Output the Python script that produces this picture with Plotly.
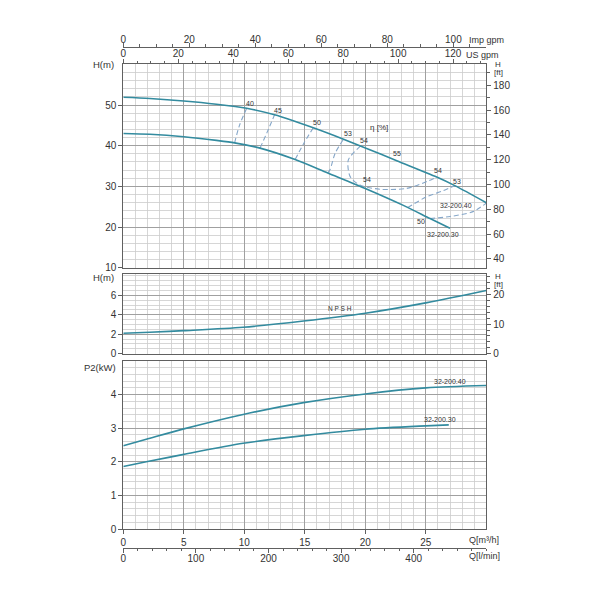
import plotly.graph_objects as go

# ---------------- data ----------------
FT = 3.28084      # m -> ft
USG = 4.40287     # m3/h -> US gpm
IMPG = 3.66615    # m3/h -> Imp gpm
LMIN = 16.6667    # m3/h -> l/min

# H-Q curves
q_h40 = [0, 2.2, 5, 7.7, 10.2, 12.5, 15.7, 18.2, 19.8, 22.6, 25.9, 27.4, 30]
h_h40 = [51.9, 51.6, 51.0, 50.2, 49.2, 47.6, 44.4, 41.6, 39.7, 36.3, 32.3, 30.2, 26.0]
q_h30 = [0, 2.2, 5, 7.7, 9.2, 11.3, 14.2, 16.9, 20, 23.1, 25.35, 27.0]
h_h30 = [43.0, 42.8, 42.2, 41.3, 40.7, 39.4, 36.6, 33.3, 29.5, 25.4, 22.1, 19.7]

# iso-efficiency curves (dashed)
eff40_q = [9.2, 9.6, 10.2];            eff40_h = [40.7, 45.0, 49.2]
eff45_q = [11.3, 11.9, 12.5];          eff45_h = [39.4, 43.4, 47.6]
eff50_q = [14.2, 14.9, 15.7];          eff50_h = [36.6, 40.5, 44.4]
eff53a_q = [16.9, 17.1, 17.5, 18.2];   eff53a_h = [33.3, 34.2, 38.1, 41.6]
eff54_q = [19.6, 18.6, 18.75, 19.55, 21.2, 23.4, 25.1, 25.9]
eff54_h = [39.9, 36.5, 32.4, 30.35, 29.3, 29.5, 31.2, 32.3]
eff53b_q = [23.5, 25.1, 26.45, 27.4];  eff53b_h = [24.8, 27.5, 28.95, 30.2]
eff50b_q = [25.35, 27.0, 28.9, 30.0];  eff50b_h = [22.1, 22.6, 23.8, 25.9]

# efficiency labels
effl_text = ["40", "45", "50", "53", "54", "55", "54", "53", "54", "50"]
effl_q = [10.5, 12.8, 16.0, 18.6, 19.9, 22.65, 26.0, 27.55, 20.1, 24.6]
effl_h = [50.4, 48.6, 45.65, 42.9, 41.2, 38.1, 33.9, 31.2, 31.6, 21.3]

# NPSH
q_npsh = [0, 2.2, 5, 9.9, 14.9, 20, 25.1, 30]
npsh = [2.1, 2.2, 2.37, 2.72, 3.36, 4.16, 5.25, 6.5]

# P2
q_p40 = [0, 1.9, 5, 9.9, 14.9, 20, 25, 30]
p_p40 = [2.48, 2.67, 2.98, 3.41, 3.76, 4.02, 4.20, 4.27]
q_p30 = [0, 1.9, 5, 9.9, 14.9, 20, 25, 26.9]
p_p30 = [1.86, 2.0, 2.22, 2.55, 2.78, 2.97, 3.07, 3.10]

# tick labels
q_ticks = [0, 5, 10, 15, 20, 25]
lmin_ticks = [0, 100, 200, 300, 400]
usg_ticks = [0, 20, 40, 60, 80, 100, 120]
impg_ticks = [0, 20, 40, 60, 80, 100]
h_ticks = [10, 20, 30, 40, 50]
hft_ticks = [40, 60, 80, 100, 120, 140, 160, 180]
npsh_ticks = [0, 2, 4, 6]
npshft_ticks = [0, 10, 20]
p_ticks = [0, 1, 2, 3, 4]

# ---------------- styling ----------------
W = H = 600
def px_x(x): return x / W
def px_y(y): return 1 - y / H

CURVE = "#338b9f"
DASH = "#86a7c9"
MAJ = "#a0a0a0"
MIN = "#cccccc"
BORDER = "#606060"
TXT = "#333333"
FONT = "Liberation Sans, Arial, sans-serif"

XDOM = [px_x(123.3), px_x(486.3)]
D_TOP = [px_y(267.8), px_y(64.3)]
D_NPSH = [px_y(353.7), px_y(273.5)]
D_P2 = [px_y(529), px_y(361)]
NPSH_MAX = 8.25

fig = go.Figure()

def line(q, v, xa, ya, color=CURVE, width=1.6, dash="solid"):
    fig.add_trace(go.Scatter(x=q, y=v, xaxis=xa, yaxis=ya, mode="lines",
                             line=dict(color=color, width=width, dash=dash, shape="spline", smoothing=0.8),
                             hoverinfo="skip", showlegend=False))

for q, h in [(eff40_q, eff40_h), (eff45_q, eff45_h), (eff50_q, eff50_h),
             (eff53a_q, eff53a_h), (eff54_q, eff54_h), (eff53b_q, eff53b_h),
             (eff50b_q, eff50b_h)]:
    line(q, h, "x", "y", color=DASH, width=1.1, dash="5px,3px")

line(q_h40, h_h40, "x", "y")
line(q_h30, h_h30, "x", "y")
line(q_npsh, npsh, "x2", "y2")
line(q_p40, p_p40, "x3", "y3")
line(q_p30, p_p30, "x3", "y3")

for xa, ya in [("x4", "y"), ("x5", "y"), ("x6", "y3"), ("x", "y4"), ("x2", "y5")]:
    fig.add_trace(go.Scatter(x=[None], y=[None], xaxis=xa, yaxis=ya, showlegend=False, hoverinfo="skip"))

tickfont = dict(family=FONT, size=10, color=TXT)

def main_x(anchor, show):
    d = dict(domain=XDOM, range=[0, 30], anchor=anchor, showgrid=True, gridcolor=MAJ, gridwidth=1,
             tickvals=q_ticks, minor=dict(dtick=1, tick0=0, showgrid=True, gridcolor=MIN, gridwidth=0.8),
             showline=True, linecolor=BORDER, linewidth=1, mirror=True, zeroline=False,
             tickfont=tickfont, fixedrange=True, automargin=False)
    if show:
        d.update(ticks="outside", ticklen=4, tickcolor=BORDER, showticklabels=True)
    else:
        d.update(ticks="", showticklabels=False)
    return d

def main_y(dom, rng, tv, minor_dt, anchor):
    return dict(domain=dom, range=rng, anchor=anchor, tickvals=tv, showgrid=True, gridcolor=MAJ,
                gridwidth=1, minor=dict(dtick=minor_dt, tick0=0, showgrid=True, gridcolor=MIN, gridwidth=0.8),
                showline=True, linecolor=BORDER, linewidth=1, mirror=True, zeroline=False,
                ticks="outside", ticklen=4, tickcolor=BORDER, tickfont=tickfont, fixedrange=True,
                automargin=False)

def sec_x(rng, tv, minor_dt, overlay, anchor, side, position=None, line=False, standoff=0):
    d = dict(range=rng, overlaying=overlay, anchor=anchor, side=side, tickvals=tv,
             ticks="outside", ticklen=4, tickcolor=BORDER, tickfont=tickfont,
             minor=dict(dtick=minor_dt, tick0=0, ticks="outside", ticklen=2.5, tickcolor=BORDER, showgrid=False),
             showgrid=False, zeroline=False, showline=line, linecolor=BORDER, linewidth=1, fixedrange=True,
             automargin=False, ticklabelstandoff=standoff)
    if position is not None:
        d["position"] = position
    return d

def sec_y(rng, tv, minor_dt, overlay, anchor):
    return dict(range=rng, overlaying=overlay, anchor=anchor, side="right", tickvals=tv,
                ticks="outside", ticklen=4, tickcolor=BORDER, tickfont=tickfont,
                minor=dict(dtick=minor_dt, tick0=0, ticks="outside", ticklen=2.5, tickcolor=BORDER, showgrid=False),
                showgrid=False, zeroline=False, showline=False, fixedrange=True, automargin=False)

fig.update_layout(
    width=W, height=H, margin=dict(l=0, r=0, t=0, b=0, autoexpand=False),
    paper_bgcolor="white", plot_bgcolor="white", showlegend=False,
    font=dict(family=FONT, color=TXT),
    xaxis=main_x("y", False),
    xaxis2=main_x("y2", False),
    xaxis3=main_x("y3", True),
    xaxis4=sec_x([0, 30 * USG], usg_ticks, 5, "x", "y", "top", standoff=-2),
    xaxis5=sec_x([0, 30 * IMPG], impg_ticks, 5, "x", "free", "top", position=px_y(46.7), line=True, standoff=-4),
    xaxis6=sec_x([0, 30 * LMIN], lmin_ticks, 20, "x3", "free", "bottom", position=px_y(547.7), line=True, standoff=-3),
    yaxis=main_y(D_TOP, [10, 60], h_ticks, 2, "x"),
    yaxis2=main_y(D_NPSH, [0, NPSH_MAX], npsh_ticks, 0.5, "x2"),
    yaxis3=main_y(D_P2, [0, 5], p_ticks, 0.2, "x3"),
    yaxis4=sec_y([10 * FT, 60 * FT], hft_ticks, 10, "y", "x"),
    yaxis5=sec_y([0, NPSH_MAX * FT], npshft_ticks, 2, "y2", "x2"),
)

annots = []
def pann(text, x, y, xanchor="center", size=9, yanchor="middle"):
    annots.append(dict(text=text, x=px_x(x), y=px_y(y), xref="paper", yref="paper",
                       xanchor=xanchor, yanchor=yanchor, showarrow=False,
                       font=dict(family=FONT, size=size, color=TXT)))

pann("Imp gpm", 486, 40)
pann("US gpm", 482, 55)
pann("Q[m³/h]", 484, 540)
pann("Q[l/min]", 484, 556)
pann("H(m)", 116, 64, xanchor="right", size=9.5)
pann("H(m)", 116, 277, xanchor="right", size=9.5)
pann("P2(kW)", 118, 367, xanchor="right", size=9.5)
pann("H", 498, 64, size=8)
pann("[ft]", 498, 72.5, size=8)
pann("H", 498, 276, size=8)
pann("[ft]", 498, 284.5, size=8)

def dann(text, q, v, xa, ya, size=7):
    annots.append(dict(text=text, x=q, y=v, xref=xa, yref=ya, showarrow=False,
                       font=dict(family=FONT, size=size, color=TXT)))

for t, q, v in zip(effl_text, effl_q, effl_h):
    dann(t, q, v, "x", "y")
dann("η [%]", 21.1, 44.4, "x", "y", size=8)
dann("32-200.40", 27.5, 25.4, "x", "y")
dann("32-200.30", 26.4, 18.1, "x", "y")
dann("N P S H", 17.9, 4.6, "x2", "y2", size=6.5)
dann("32-200.40", 27.0, 4.38, "x3", "y3")
dann("32-200.30", 26.2, 3.27, "x3", "y3")

fig.update_layout(annotations=annots)
fig.write_html("out.html", config={"displayModeBar": False, "staticPlot": True},
               post_script="document.body.style.margin='0';document.body.style.padding='0';")
